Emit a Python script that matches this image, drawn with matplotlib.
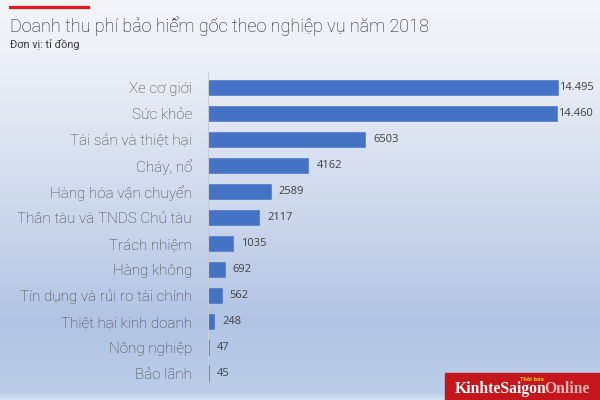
import numpy as np
import matplotlib
matplotlib.use("Agg")
import matplotlib.pyplot as plt
from matplotlib.patches import Rectangle
from matplotlib.lines import Line2D

categories = ["Xe cơ giới", "Sức khỏe", "Tài sản và thiệt hại", "Cháy, nổ",
              "Hàng hóa vận chuyển", "Thân tàu và TNDS Chủ tàu", "Trách nhiệm",
              "Hàng không", "Tín dụng và rủi ro tài chính", "Thiệt hại kinh doanh",
              "Nông nghiệp", "Bảo lãnh"]
values = [14495, 14460, 6503, 4162, 2589, 2117, 1035, 692, 562, 248, 47, 45]

title = "Doanh thu phí bảo hiểm gốc theo nghiệp vụ năm 2018"
subtitle = "Đơn vị: tỉ đồng"

W, H = 600, 400
fig = plt.figure(figsize=(6, 4), dpi=100)

# background gradient
bg = fig.add_axes([0, 0, 1, 1])
stops_y = np.array([0, 60, 140, 220, 320, 392, 400])
stops_c = np.array([[243, 245, 250], [236, 239, 247], [220, 227, 241], [203, 214, 236],
                    [178, 196, 228], [188, 205, 233], [215, 225, 243]]) / 255
ys = np.arange(H)
grad = np.stack([np.interp(ys, stops_y, stops_c[:, k]) for k in range(3)], axis=-1)
img = np.repeat(grad[:, None, :], 2, axis=1)
bg.imshow(img, aspect="auto", extent=[0, 1, 0, 1], origin="upper")
bg.set_axis_off()

# main axes
x0 = 208
top_px, bot_px = 74.5, 386
ax = fig.add_axes([x0 / W, 1 - bot_px / H, 382 / W, (bot_px - top_px) / H])
ax.patch.set_alpha(0)
pos = np.arange(len(categories))
ax.barh(pos, values, height=0.58, color="#4472C4", edgecolor="#4472C4", linewidth=0.4)
ax.set_xlim(0, 15820)
ax.set_ylim(len(categories) - 0.5, -0.5)
ax.set_yticks(pos)
ax.set_yticklabels(categories, fontsize=11, family="Roboto", fontweight="light",
                   color="#3a3a3a")
ax.tick_params(axis="y", length=0, pad=11.5)
ax.set_xticks([])
for s in ["top", "right", "bottom"]:
    ax.spines[s].set_visible(False)
ax.spines["left"].set_color("#c5ccd9")
ax.spines["left"].set_linewidth(0.8)
ax.spines["left"].set_bounds(-0.6, 11.3)

for p, v in zip(pos, values):
    if v >= 10000:
        lab = f"{v:,}".replace(",", ".")
        ax.text(v + 30, p, lab, va="center", ha="left", fontsize=8, family="Open Sans",
                color="#404040")
    else:
        ax.text(v + 330, p, str(v), va="center", ha="left", fontsize=8, family="Open Sans",
                color="#404040")

# title and red accent line
fig.add_artist(Line2D([10 / W, 88 / W], [1 - 7 / H, 1 - 7 / H], color="#e8151b", lw=2.3,
                      transform=fig.transFigure))
fig.text(10 / W, 1 - 32 / H, title, fontsize=13, family="Roboto", fontweight="light",
         color="#1a1a1a", va="baseline", ha="left")
fig.text(10 / W, 1 - 48 / H, subtitle, fontsize=7.8, family="Roboto", fontweight="normal",
         color="#3a3a3a", va="baseline", ha="left")

# logo
fig.add_artist(Rectangle((445 / W, 0), 155 / W, 27 / H, color="#c4161c",
                         transform=fig.transFigure))
fig.text(455 / W, 1 - 393 / H, "KinhteSaigon", fontsize=11.3, family="Liberation Serif",
         fontweight="bold", color="white", va="baseline", ha="left")
fig.text(544 / W, 1 - 393 / H, "Online", fontsize=11.3, family="Liberation Serif",
         fontweight="bold", color="#f2b6b6", va="baseline", ha="left")
fig.text(520 / W, 1 - 381 / H, "Thời báo", fontsize=3.5, family="DejaVu Sans",
         fontweight="bold", color="#f5d000", va="baseline", ha="left")

fig.savefig("out.png", dpi=100)
